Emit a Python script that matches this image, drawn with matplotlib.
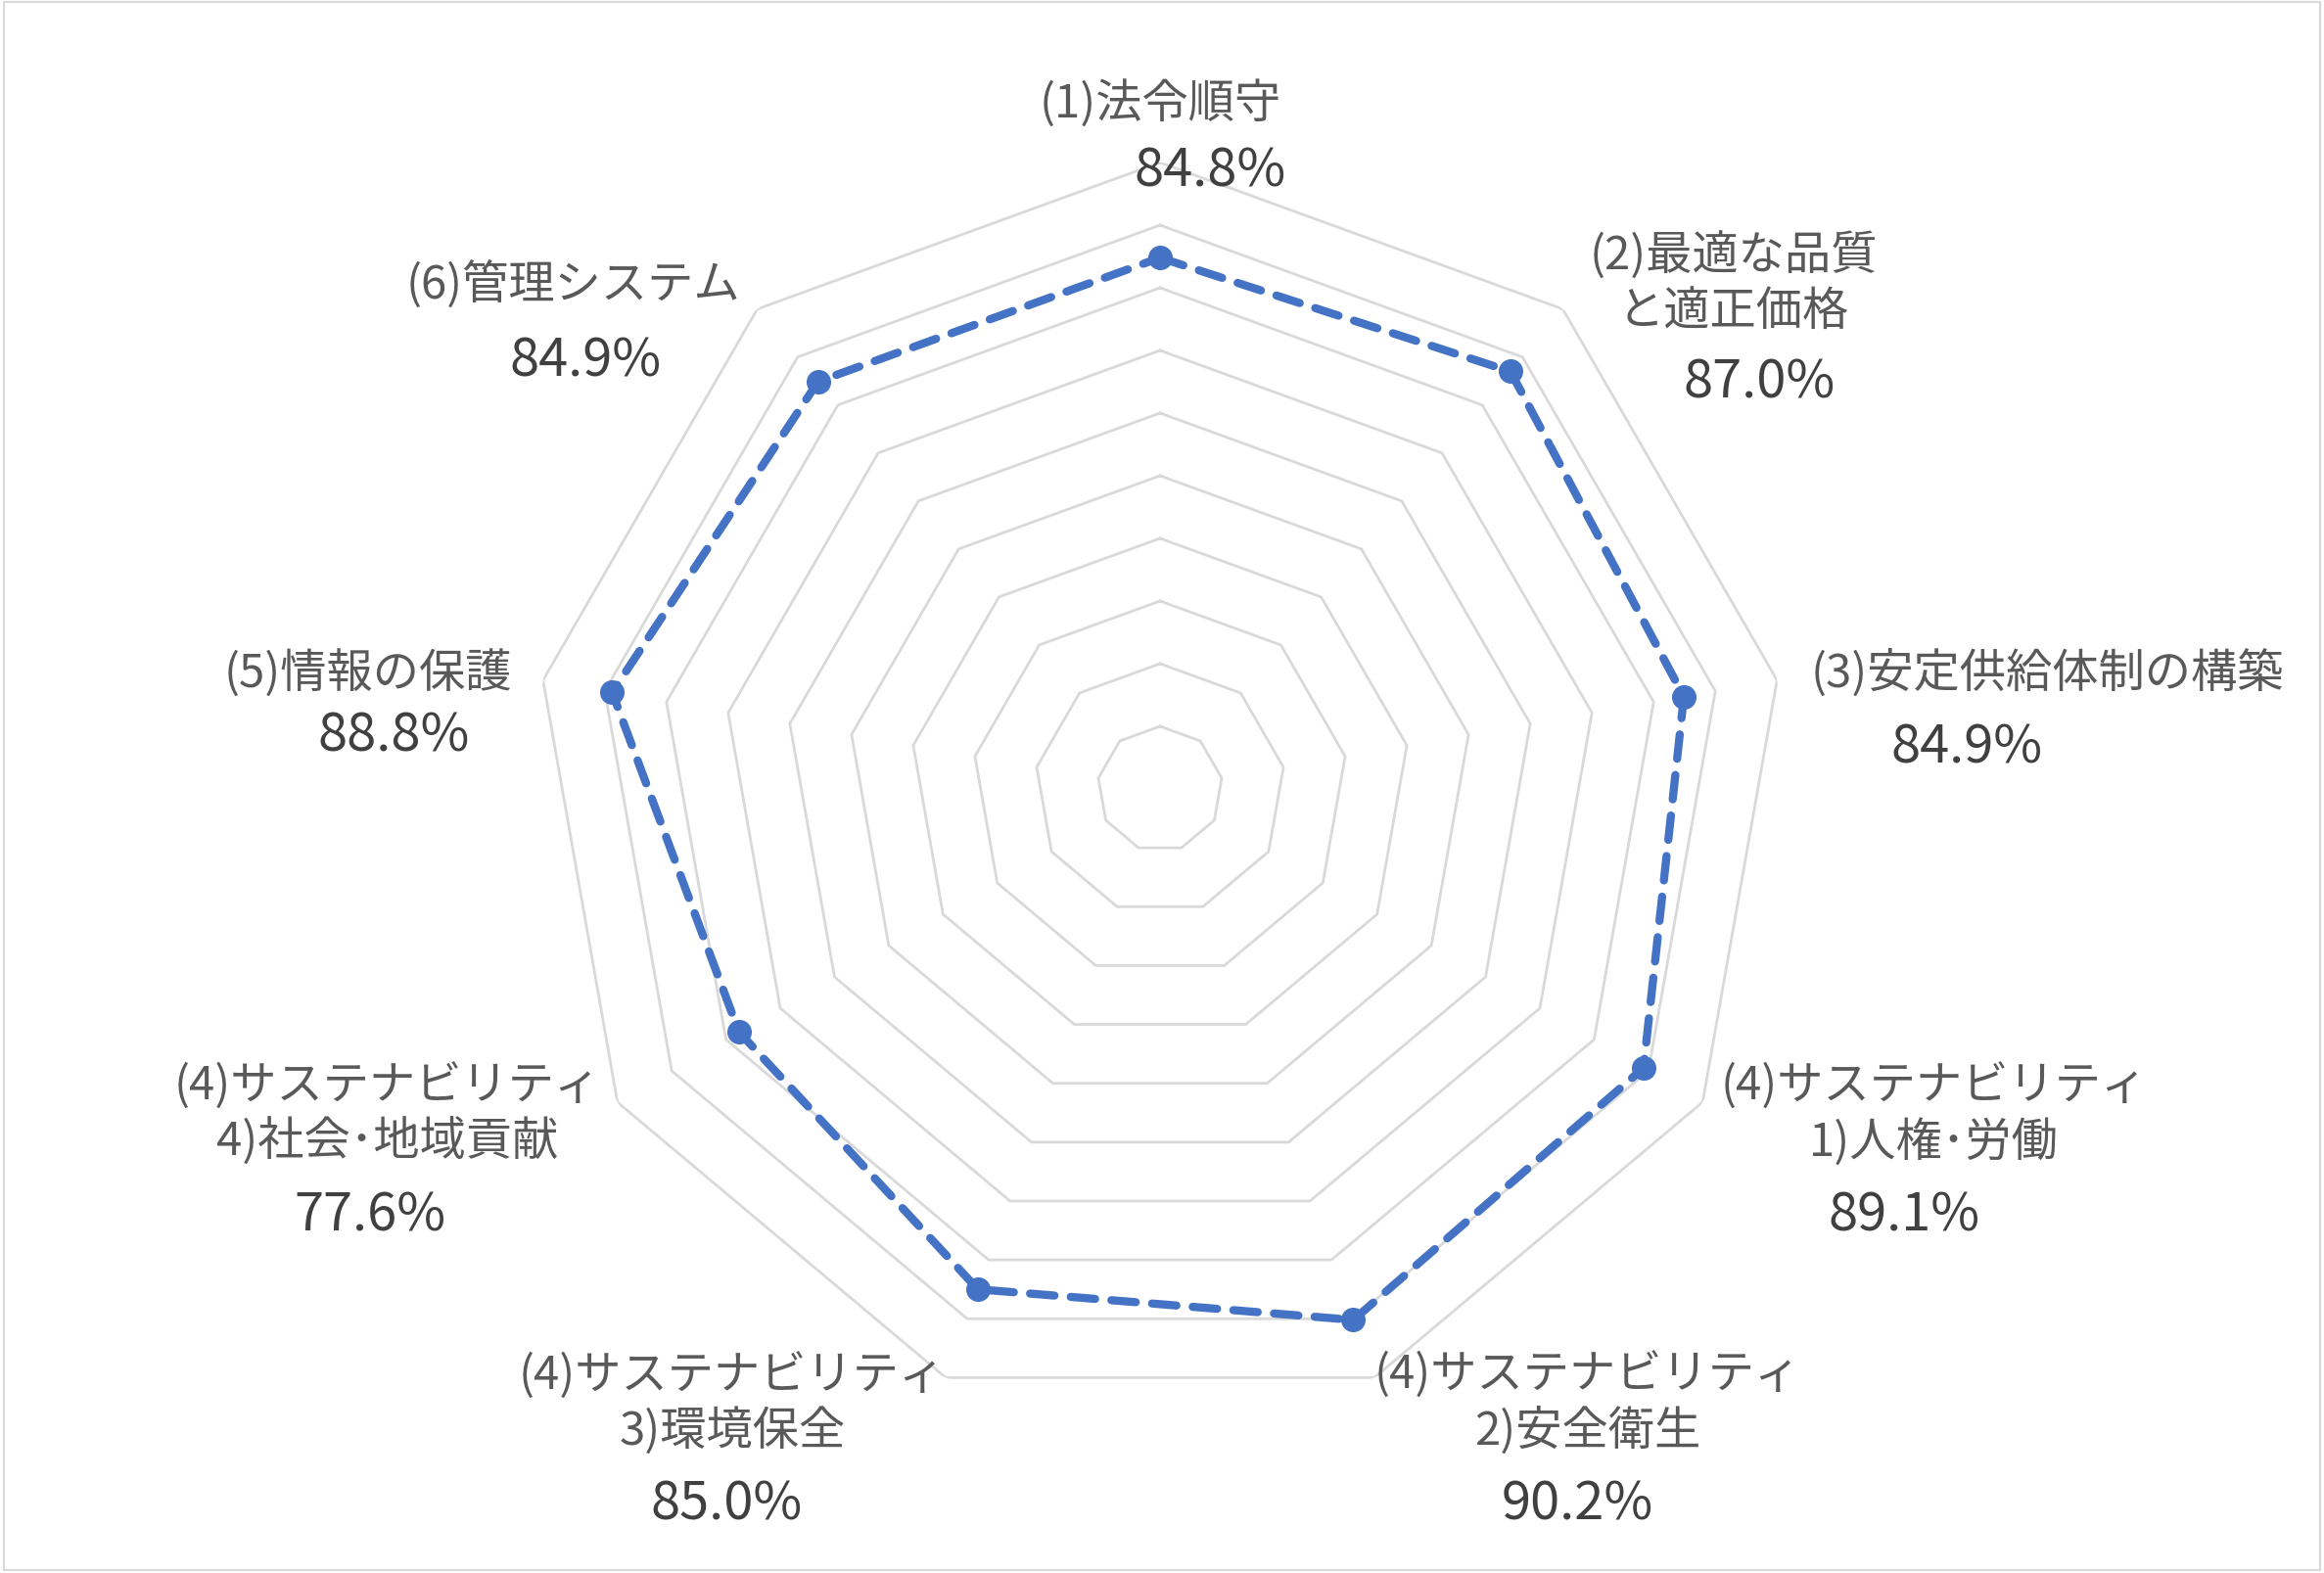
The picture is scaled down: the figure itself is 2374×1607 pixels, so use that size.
import numpy as np
import matplotlib
matplotlib.use("Agg")
import matplotlib.pyplot as plt
from matplotlib.patches import Rectangle

plt.rcParams['font.family'] = ['Noto Sans CJK JP', 'DejaVu Sans']

# data
categories = [
    "(1)法令順守",
    "(2)最適な品質\nと適正価格",
    "(3)安定供給体制の構築",
    "(4)サステナビリティ\n1)人権･労働",
    "(4)サステナビリティ\n2)安全衛生",
    "(4)サステナビリティ\n3)環境保全",
    "(4)サステナビリティ\n4)社会･地域貢献",
    "(5)情報の保護",
    "(6)管理システム",
]
scores = [84.8, 87.0, 84.9, 89.1, 90.2, 85.0, 77.6, 88.8, 84.9]
ring_levels = [10, 20, 30, 40, 50, 60, 70, 80, 90, 100]

# label offsets from the outer vertex (pixels)
label_off = [(0, 61), (174, 26), (276, 8), (236, -12), (218, -26),
             (-218, -26), (-235, -12), (-179, 8), (-188, 24)]
pct_off = [(51, -8), (201, -74), (194, -68), (206, -115), (207, -129),
           (-224, -129), (-253, -115), (-153, -56), (-176, -52)]

W, H = 2374, 1608
fig = plt.figure(figsize=(W / 100, H / 100), dpi=100)
fig.patch.set_facecolor('white')
fig.patches.append(Rectangle((0.0015, 0.002), 0.997, 0.996, transform=fig.transFigure,
                             fill=False, edgecolor='#D9D9D9', linewidth=1.5))

cx, cy, R = 1185, 807, 640
ax = fig.add_axes([(cx - R) / W, (H - cy - R) / H, 2 * R / W, 2 * R / H], projection='polar')
ax.set_theta_zero_location('N')
ax.set_theta_direction(-1)
ax.set_ylim(0, 100)
ax.grid(False)
ax.set_xticks([])
ax.set_yticks([])
ax.spines['polar'].set_visible(False)
ax.patch.set_alpha(0)

n = len(categories)
theta = np.arange(n) * 2 * np.pi / n
theta_c = np.append(theta, theta[0])

for lv in ring_levels:
    ax.plot(theta_c, [lv] * (n + 1), color='#D9D9D9', lw=2.0, zorder=1)

vals = np.append(scores, scores[0])
ax.plot(theta_c, vals, color='#4472C4', lw=6, linestyle=(0, (3, 2)),
        dash_capstyle='round', zorder=3)
ax.plot(theta, scores, 'o', color='#4472C4', markersize=17, zorder=4)

for i in range(n):
    ax.annotate(categories[i], xy=(theta[i], 100), xytext=label_off[i],
                textcoords='offset pixels', ha='center', va='center',
                fontsize=34, color='#595959', linespacing=1.2,
                annotation_clip=False)
    ax.annotate(f"{scores[i]:.1f}%", xy=(theta[i], 100), xytext=pct_off[i],
                textcoords='offset pixels', ha='center', va='center',
                fontsize=39, color='#404040', annotation_clip=False)

fig.savefig('out.png', dpi=100)
